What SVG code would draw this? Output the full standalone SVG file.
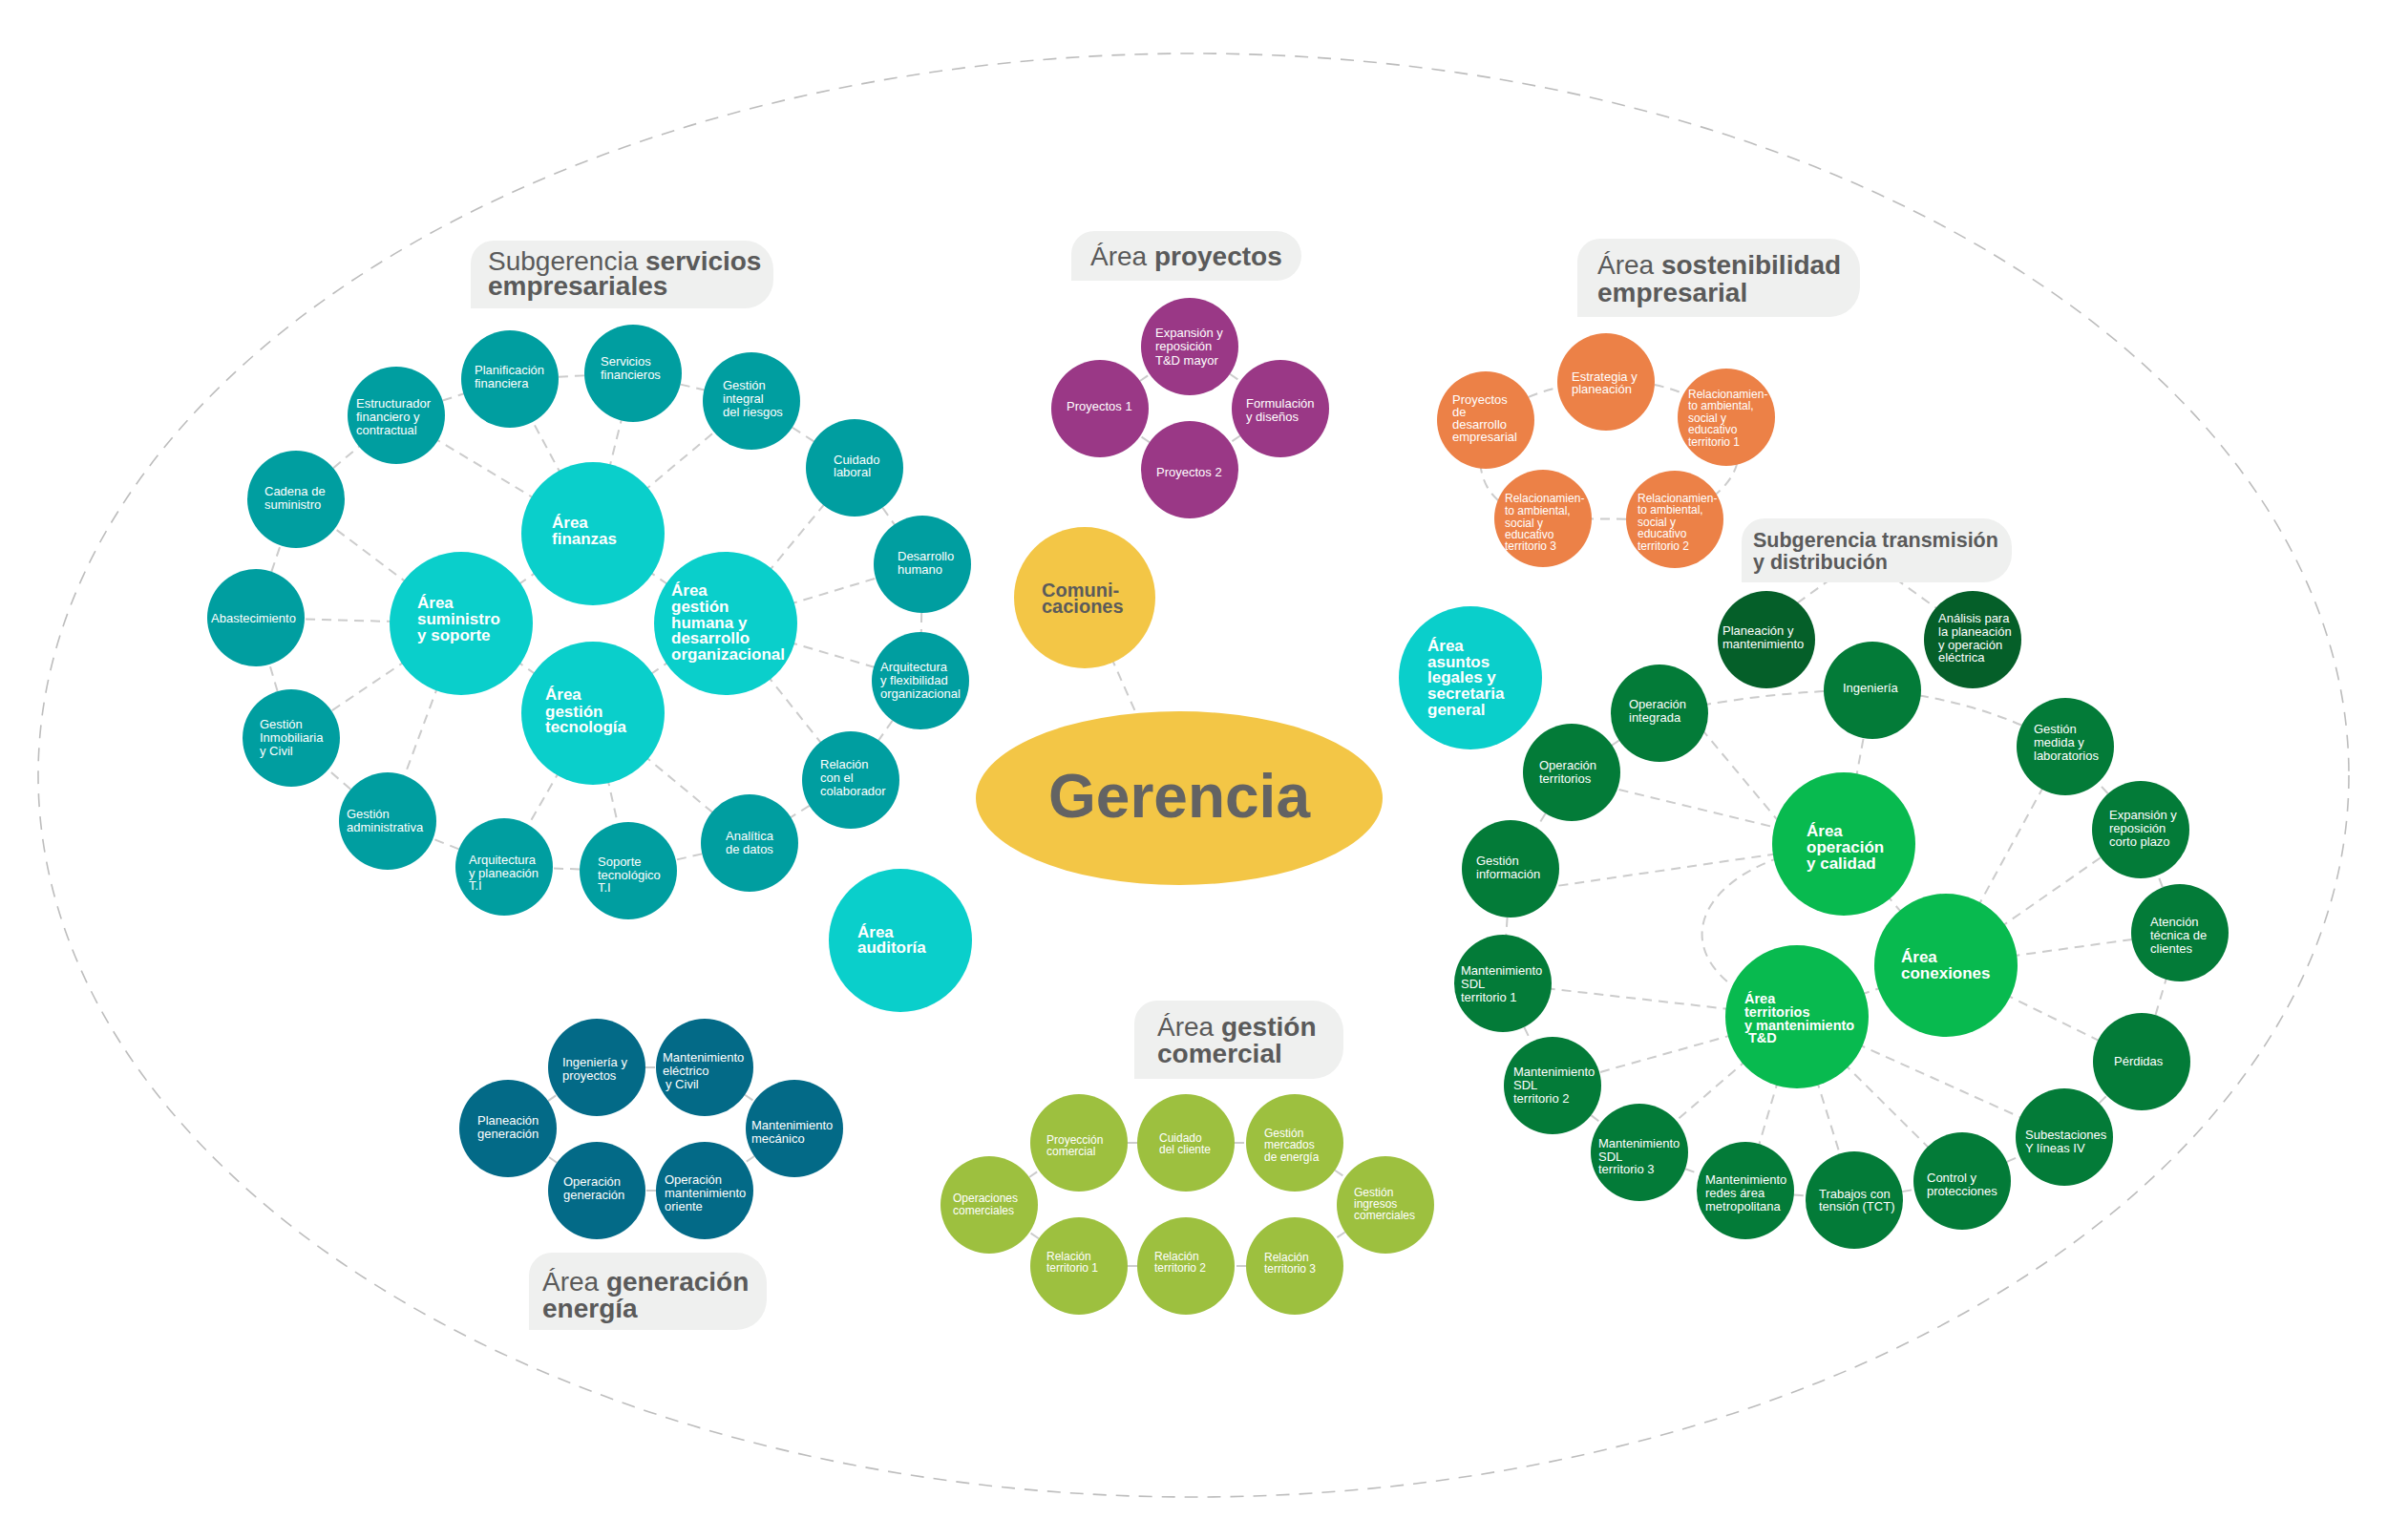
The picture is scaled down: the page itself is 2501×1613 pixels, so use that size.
<svg xmlns="http://www.w3.org/2000/svg" width="2501" height="1613" viewBox="0 0 2501 1613">
<style>
.bg{fill:#ffffff}
.outer{fill:none;stroke:#bdbdbd;stroke-width:1.6;stroke-dasharray:14 10}
.conn line,.conn path{stroke:#cccccc;stroke-width:2;stroke-dasharray:10 7;fill:none}
.teal{fill:#009ea0}
.turq{fill:#0acfcb}
.purple{fill:#9a3886}
.orange{fill:#ec8147}
.yellow{fill:#f3c646}
.dgreen{fill:#037b38}
.ddgreen{fill:#055f29}
.bgreen{fill:#08ba4f}
.gblue{fill:#036a87}
.lime{fill:#9dc03f}
.box{fill:#eff0ef}
.t{font-family:"Liberation Sans",Arial,sans-serif;font-size:13px;fill:#ffffff}
.ts{font-family:"Liberation Sans",Arial,sans-serif;font-size:12px;fill:#ffffff}
.tb{font-family:"Liberation Sans",Arial,sans-serif;font-size:17px;font-weight:bold;fill:#ffffff}
.tt{font-family:"Liberation Sans",Arial,sans-serif;font-size:28px;fill:#5a5a5a}
.b{font-weight:bold}
</style>
<rect class="bg" x="0" y="0" width="2501" height="1613"/>
<ellipse class="outer" cx="1250" cy="812" rx="1210" ry="756"/>

<g id="connectors" class="conn">
<!-- servicios empresariales ring -->
<line x1="415" y1="435" x2="534" y2="397"/>
<line x1="534" y1="397" x2="663" y2="391"/>
<line x1="663" y1="391" x2="787" y2="420"/>
<line x1="787" y1="420" x2="895" y2="490"/>
<line x1="895" y1="490" x2="966" y2="591"/>
<line x1="966" y1="591" x2="964" y2="713"/>
<line x1="964" y1="713" x2="891" y2="817"/>
<line x1="891" y1="817" x2="785" y2="883"/>
<line x1="785" y1="883" x2="658" y2="912"/>
<line x1="658" y1="912" x2="528" y2="908"/>
<line x1="528" y1="908" x2="406" y2="860"/>
<line x1="406" y1="860" x2="305" y2="773"/>
<line x1="305" y1="773" x2="268" y2="647"/>
<line x1="268" y1="647" x2="310" y2="523"/>
<line x1="310" y1="523" x2="415" y2="435"/>
<!-- finanzas -->
<line x1="621" y1="559" x2="534" y2="397"/>
<line x1="621" y1="559" x2="663" y2="391"/>
<line x1="621" y1="559" x2="787" y2="420"/>
<line x1="621" y1="559" x2="415" y2="435"/>
<line x1="621" y1="559" x2="483" y2="653"/>
<line x1="621" y1="559" x2="760" y2="653"/>
<!-- suministro -->
<line x1="483" y1="653" x2="310" y2="523"/>
<line x1="483" y1="653" x2="268" y2="647"/>
<line x1="483" y1="653" x2="305" y2="773"/>
<line x1="483" y1="653" x2="406" y2="860"/>
<line x1="483" y1="653" x2="621" y2="747"/>
<!-- gestion humana -->
<line x1="760" y1="653" x2="895" y2="490"/>
<line x1="760" y1="653" x2="966" y2="591"/>
<line x1="760" y1="653" x2="964" y2="713"/>
<line x1="760" y1="653" x2="891" y2="817"/>
<line x1="760" y1="653" x2="621" y2="747"/>
<!-- tecnologia -->
<line x1="621" y1="747" x2="528" y2="908"/>
<line x1="621" y1="747" x2="658" y2="912"/>
<line x1="621" y1="747" x2="785" y2="883"/>
<!-- comunicaciones -->
<line x1="1136" y1="626" x2="1200" y2="770"/>
<!-- proyectos -->
<line x1="1152" y1="428" x2="1246" y2="363"/>
<line x1="1246" y1="363" x2="1341" y2="428"/>
<line x1="1341" y1="428" x2="1246" y2="492"/>
<line x1="1246" y1="492" x2="1152" y2="428"/>
<!-- sostenibilidad -->
<path d="M1556,440 Q1615,400 1682,400"/>
<path d="M1682,400 Q1750,395 1808,437"/>
<path d="M1808,437 Q1850,500 1754,544"/>
<line x1="1754" y1="544" x2="1616" y2="543"/>
<path d="M1616,543 Q1530,530 1556,440"/>
<!-- transmision y distribucion -->
<line x1="1918" y1="606" x2="1868" y2="642"/>
<line x1="1985" y1="606" x2="2035" y2="642"/>
<line x1="1738" y1="747" x2="1646" y2="809"/>
<line x1="1646" y1="809" x2="1582" y2="910"/>
<line x1="1582" y1="910" x2="1574" y2="1030"/>
<line x1="1574" y1="1030" x2="1626" y2="1137"/>
<line x1="1626" y1="1137" x2="1717" y2="1207"/>
<line x1="1717" y1="1207" x2="1828" y2="1247"/>
<line x1="1828" y1="1247" x2="1942" y2="1257"/>
<line x1="1942" y1="1257" x2="2055" y2="1237"/>
<line x1="2055" y1="1237" x2="2162" y2="1191"/>
<line x1="2162" y1="1191" x2="2243" y2="1112"/>
<line x1="2243" y1="1112" x2="2283" y2="977"/>
<line x1="2283" y1="977" x2="2242" y2="869"/>
<line x1="2242" y1="869" x2="2163" y2="782"/>
<path d="M2163,782 Q2070,730 1961,723"/>
<path d="M1961,723 Q1860,722 1738,747"/>
<line x1="1931" y1="884" x2="1961" y2="723"/>
<line x1="1760" y1="737" x2="1890" y2="893"/>
<line x1="1646" y1="815" x2="1931" y2="884"/>
<line x1="1582" y1="935" x2="1931" y2="884"/>
<line x1="1931" y1="884" x2="2038" y2="1011"/>
<path d="M1931,884 C1770,900 1720,1015 1882,1065"/>
<line x1="2038" y1="1011" x2="2163" y2="782"/>
<line x1="2038" y1="1011" x2="2242" y2="869"/>
<line x1="2038" y1="1011" x2="2283" y2="977"/>
<line x1="2038" y1="1011" x2="2243" y2="1112"/>
<line x1="2038" y1="1011" x2="1882" y2="1065"/>
<line x1="1882" y1="1065" x2="1574" y2="1030"/>
<line x1="1882" y1="1065" x2="1626" y2="1137"/>
<line x1="1882" y1="1065" x2="1717" y2="1207"/>
<line x1="1882" y1="1065" x2="1828" y2="1247"/>
<line x1="1882" y1="1065" x2="1942" y2="1257"/>
<line x1="1882" y1="1065" x2="2055" y2="1237"/>
<line x1="1882" y1="1065" x2="2162" y2="1191"/>
<!-- generacion -->
<line x1="532" y1="1182" x2="625" y2="1118"/>
<line x1="625" y1="1118" x2="738" y2="1118"/>
<line x1="738" y1="1118" x2="832" y2="1182"/>
<line x1="832" y1="1182" x2="738" y2="1247"/>
<line x1="738" y1="1247" x2="625" y2="1247"/>
<line x1="625" y1="1247" x2="532" y2="1182"/>
<!-- comercial -->
<line x1="1036" y1="1262" x2="1130" y2="1197"/>
<line x1="1130" y1="1197" x2="1242" y2="1197"/>
<line x1="1242" y1="1197" x2="1356" y2="1197"/>
<line x1="1356" y1="1197" x2="1451" y2="1262"/>
<line x1="1451" y1="1262" x2="1356" y2="1326"/>
<line x1="1356" y1="1326" x2="1242" y2="1326"/>
<line x1="1242" y1="1326" x2="1130" y2="1326"/>
<line x1="1130" y1="1326" x2="1036" y2="1262"/>
</g>

<!-- title boxes -->
<g id="title-servicios">
<path class="box" d="M493,323 V276 A24,24 0 0 1 517,252 H780 A30,30 0 0 1 810,282 V293 A30,30 0 0 1 780,323 Z"/>
<text class="tt" x="511" y="283">Subgerencia <tspan class="b">servicios</tspan></text>
<text class="tt b" x="511" y="309">empresariales</text>
</g>
<g id="title-proyectos">
<path class="box" d="M1122,294 V266 A24,24 0 0 1 1146,242 H1337 A26,26 0 0 1 1363,268 A26,26 0 0 1 1337,294 Z"/>
<text class="tt" x="1142" y="278">Área <tspan class="b">proyectos</tspan></text>
</g>
<g id="title-sostenibilidad">
<path class="box" d="M1652,332 V274 A24,24 0 0 1 1676,250 H1916 A32,32 0 0 1 1948,282 V300 A32,32 0 0 1 1916,332 Z"/>
<text class="tt" x="1673" y="287">Área <tspan class="b">sostenibilidad</tspan></text>
<text class="tt b" x="1673" y="316">empresarial</text>
</g>
<g id="title-transmision">
<path class="box" d="M1824,610 V567 A24,24 0 0 1 1848,543 H2077 A30,30 0 0 1 2107,573 V580 A30,30 0 0 1 2077,610 Z"/>
<text class="tt b" x="1836" y="573" style="font-size:21.5px">Subgerencia transmisión</text>
<text class="tt b" x="1836" y="596" style="font-size:21.5px">y distribución</text>
</g>
<g id="title-comercial">
<path class="box" d="M1188,1130 V1072 A24,24 0 0 1 1212,1048 H1375 A32,32 0 0 1 1407,1080 V1098 A32,32 0 0 1 1375,1130 Z"/>
<text class="tt" x="1212" y="1085">Área <tspan class="b">gestión</tspan></text>
<text class="tt b" x="1212" y="1113">comercial</text>
</g>
<g id="title-generacion">
<path class="box" d="M554,1393 V1336 A24,24 0 0 1 578,1312 H771 A32,32 0 0 1 803,1344 V1361 A32,32 0 0 1 771,1393 Z"/>
<text class="tt" x="568" y="1352">Área <tspan class="b">generación</tspan></text>
<text class="tt b" x="568" y="1380">energía</text>
</g>

<!-- Gerencia & comunicaciones -->
<g id="gerencia">
<ellipse class="yellow" cx="1235" cy="836" rx="213" ry="91"/>
<text x="1235" y="856" text-anchor="middle" style="font-family:'Liberation Sans',Arial,sans-serif;font-size:64px;font-weight:bold;fill:#636363">Gerencia</text>
</g>
<g id="comunicaciones">
<circle class="yellow" cx="1136" cy="626" r="74"/>
<text style="font-family:'Liberation Sans',Arial,sans-serif;font-size:20px;font-weight:bold;fill:#5b5b5b"><tspan x="1091" y="625">Comuni-</tspan><tspan x="1091" y="642">caciones</tspan></text>
</g>

<!-- servicios empresariales nodes -->
<g id="planificacion"><circle class="teal" cx="534" cy="397" r="51"/><text class="t"><tspan x="497" y="392">Planificación</tspan><tspan x="497" y="406">financiera</tspan></text></g>
<g id="servicios-financieros"><circle class="teal" cx="663" cy="391" r="51"/><text class="t"><tspan x="629" y="383">Servicios</tspan><tspan x="629" y="397">financieros</tspan></text></g>
<g id="gestion-integral"><circle class="teal" cx="787" cy="420" r="51"/><text class="t"><tspan x="757" y="408">Gestión</tspan><tspan x="757" y="422">integral</tspan><tspan x="757" y="436">del riesgos</tspan></text></g>
<g id="estructurador"><circle class="teal" cx="415" cy="435" r="51"/><text class="t"><tspan x="373" y="427">Estructurador</tspan><tspan x="373" y="441">financiero y</tspan><tspan x="373" y="455">contractual</tspan></text></g>
<g id="cadena"><circle class="teal" cx="310" cy="523" r="51"/><text class="t"><tspan x="277" y="519">Cadena de</tspan><tspan x="277" y="533">suministro</tspan></text></g>
<g id="cuidado-laboral"><circle class="teal" cx="895" cy="490" r="51"/><text class="t"><tspan x="873" y="486">Cuidado</tspan><tspan x="873" y="499">laboral</tspan></text></g>
<g id="desarrollo-humano"><circle class="teal" cx="966" cy="591" r="51"/><text class="t"><tspan x="940" y="587">Desarrollo</tspan><tspan x="940" y="601">humano</tspan></text></g>
<g id="abastecimiento"><circle class="teal" cx="268" cy="647" r="51"/><text class="t"><tspan x="221" y="652">Abastecimiento</tspan></text></g>
<g id="arquitectura-flex"><circle class="teal" cx="964" cy="713" r="51"/><text class="t"><tspan x="922" y="703">Arquitectura</tspan><tspan x="922" y="717">y flexibilidad</tspan><tspan x="922" y="731">organizacional</tspan></text></g>
<g id="gestion-inmobiliaria"><circle class="teal" cx="305" cy="773" r="51"/><text class="t"><tspan x="272" y="763">Gestión</tspan><tspan x="272" y="777">Inmobiliaria</tspan><tspan x="272" y="791">y Civil</tspan></text></g>
<g id="gestion-administrativa"><circle class="teal" cx="406" cy="860" r="51"/><text class="t"><tspan x="363" y="857">Gestión</tspan><tspan x="363" y="871">administrativa</tspan></text></g>
<g id="arquitectura-ti"><circle class="teal" cx="528" cy="908" r="51"/><text class="t"><tspan x="491" y="905">Arquitectura</tspan><tspan x="491" y="919">y planeación</tspan><tspan x="491" y="932">T.I</tspan></text></g>
<g id="soporte-ti"><circle class="teal" cx="658" cy="912" r="51"/><text class="t"><tspan x="626" y="907">Soporte</tspan><tspan x="626" y="921">tecnológico</tspan><tspan x="626" y="934">T.I</tspan></text></g>
<g id="analitica"><circle class="teal" cx="785" cy="883" r="51"/><text class="t"><tspan x="760" y="880">Analítica</tspan><tspan x="760" y="894">de datos</tspan></text></g>
<g id="relacion-colaborador"><circle class="teal" cx="891" cy="817" r="51"/><text class="t"><tspan x="859" y="805">Relación</tspan><tspan x="859" y="819">con el</tspan><tspan x="859" y="833">colaborador</tspan></text></g>

<g id="area-finanzas"><circle class="turq" cx="621" cy="559" r="75"/><text class="tb"><tspan x="578" y="553">Área</tspan><tspan x="578" y="570">finanzas</tspan></text></g>
<g id="area-suministro"><circle class="turq" cx="483" cy="653" r="75"/><text class="tb"><tspan x="437" y="637">Área</tspan><tspan x="437" y="654">suministro</tspan><tspan x="437" y="671">y soporte</tspan></text></g>
<g id="area-gestion-humana"><circle class="turq" cx="760" cy="653" r="75"/><text class="tb"><tspan x="703" y="624">Área</tspan><tspan x="703" y="641">gestión</tspan><tspan x="703" y="658">humana y</tspan><tspan x="703" y="674">desarrollo</tspan><tspan x="703" y="691">organizacional</tspan></text></g>
<g id="area-tecnologia"><circle class="turq" cx="621" cy="747" r="75"/><text class="tb"><tspan x="571" y="733">Área</tspan><tspan x="571" y="751">gestión</tspan><tspan x="571" y="767">tecnología</tspan></text></g>
<g id="area-auditoria"><circle class="turq" cx="943" cy="985" r="75"/><text class="tb"><tspan x="898" y="982">Área</tspan><tspan x="898" y="998">auditoría</tspan></text></g>
<g id="area-asuntos-legales"><circle class="turq" cx="1540" cy="710" r="75"/><text class="tb"><tspan x="1495" y="682">Área</tspan><tspan x="1495" y="699">asuntos</tspan><tspan x="1495" y="715">legales y</tspan><tspan x="1495" y="732">secretaria</tspan><tspan x="1495" y="749">general</tspan></text></g>

<!-- proyectos -->
<g id="expansion-td"><circle class="purple" cx="1246" cy="363" r="51"/><text class="t"><tspan x="1210" y="353">Expansión y</tspan><tspan x="1210" y="367">reposición</tspan><tspan x="1210" y="382">T&amp;D mayor</tspan></text></g>
<g id="proyectos-1"><circle class="purple" cx="1152" cy="428" r="51"/><text class="t"><tspan x="1117" y="430">Proyectos 1</tspan></text></g>
<g id="formulacion"><circle class="purple" cx="1341" cy="428" r="51"/><text class="t"><tspan x="1305" y="427">Formulación</tspan><tspan x="1305" y="441">y diseños</tspan></text></g>
<g id="proyectos-2"><circle class="purple" cx="1246" cy="492" r="51"/><text class="t"><tspan x="1211" y="499">Proyectos 2</tspan></text></g>

<!-- sostenibilidad -->
<g id="estrategia"><circle class="orange" cx="1682" cy="400" r="51"/><text class="t"><tspan x="1646" y="399">Estrategia y</tspan><tspan x="1646" y="412">planeación</tspan></text></g>
<g id="proyectos-desarrollo"><circle class="orange" cx="1556" cy="440" r="51"/><text class="t"><tspan x="1521" y="423">Proyectos</tspan><tspan x="1521" y="436">de</tspan><tspan x="1521" y="449">desarrollo</tspan><tspan x="1521" y="462">empresarial</tspan></text></g>
<g id="relacionamiento-1"><circle class="orange" cx="1808" cy="437" r="51"/><text class="ts"><tspan x="1768" y="417">Relacionamien-</tspan><tspan x="1768" y="429">to ambiental,</tspan><tspan x="1768" y="442">social  y</tspan><tspan x="1768" y="454">educativo</tspan><tspan x="1768" y="467">territorio 1</tspan></text></g>
<g id="relacionamiento-3"><circle class="orange" cx="1616" cy="543" r="51"/><text class="ts"><tspan x="1576" y="526">Relacionamien-</tspan><tspan x="1576" y="539">to ambiental,</tspan><tspan x="1576" y="552">social  y</tspan><tspan x="1576" y="564">educativo</tspan><tspan x="1576" y="576">territorio 3</tspan></text></g>
<g id="relacionamiento-2"><circle class="orange" cx="1754" cy="544" r="51"/><text class="ts"><tspan x="1715" y="526">Relacionamien-</tspan><tspan x="1715" y="538">to ambiental,</tspan><tspan x="1715" y="551">social  y</tspan><tspan x="1715" y="563">educativo</tspan><tspan x="1715" y="576">territorio 2</tspan></text></g>

<!-- transmision y distribucion -->
<g id="planeacion-mantenimiento"><circle class="ddgreen" cx="1850" cy="670" r="51"/><text class="t"><tspan x="1804" y="665">Planeación y</tspan><tspan x="1804" y="679">mantenimiento</tspan></text></g>
<g id="analisis-planeacion"><circle class="ddgreen" cx="2066" cy="670" r="51"/><text class="t"><tspan x="2030" y="652">Análisis para</tspan><tspan x="2030" y="666">la planeación</tspan><tspan x="2030" y="680">y operación</tspan><tspan x="2030" y="693">eléctrica</tspan></text></g>
<g id="ingenieria"><circle class="dgreen" cx="1961" cy="723" r="51"/><text class="t"><tspan x="1930" y="725">Ingeniería</tspan></text></g>
<g id="operacion-integrada"><circle class="dgreen" cx="1738" cy="747" r="51"/><text class="t"><tspan x="1706" y="742">Operación</tspan><tspan x="1706" y="756">integrada</tspan></text></g>
<g id="operacion-territorios"><circle class="dgreen" cx="1646" cy="809" r="51"/><text class="t"><tspan x="1612" y="806">Operación</tspan><tspan x="1612" y="820">territorios</tspan></text></g>
<g id="gestion-medida"><circle class="dgreen" cx="2163" cy="782" r="51"/><text class="t"><tspan x="2130" y="768">Gestión</tspan><tspan x="2130" y="782">medida y</tspan><tspan x="2130" y="796">laboratorios</tspan></text></g>
<g id="gestion-informacion"><circle class="dgreen" cx="1582" cy="910" r="51"/><text class="t"><tspan x="1546" y="906">Gestión</tspan><tspan x="1546" y="920">información</tspan></text></g>
<g id="expansion-corto-plazo"><circle class="dgreen" cx="2242" cy="869" r="51"/><text class="t"><tspan x="2209" y="858">Expansión y</tspan><tspan x="2209" y="872">reposición</tspan><tspan x="2209" y="886">corto plazo</tspan></text></g>
<g id="atencion-tecnica"><circle class="dgreen" cx="2283" cy="977" r="51"/><text class="t"><tspan x="2252" y="970">Atención</tspan><tspan x="2252" y="984">técnica de</tspan><tspan x="2252" y="998">clientes</tspan></text></g>
<g id="perdidas"><circle class="dgreen" cx="2243" cy="1112" r="51"/><text class="t"><tspan x="2214" y="1116">Pérdidas</tspan></text></g>
<g id="subestaciones"><circle class="dgreen" cx="2162" cy="1191" r="51"/><text class="t"><tspan x="2121" y="1193">Subestaciones</tspan><tspan x="2121" y="1207">Y líneas IV</tspan></text></g>
<g id="control-protecciones"><circle class="dgreen" cx="2055" cy="1237" r="51"/><text class="t"><tspan x="2018" y="1238">Control y</tspan><tspan x="2018" y="1252">protecciones</tspan></text></g>
<g id="trabajos-tension"><circle class="dgreen" cx="1942" cy="1257" r="51"/><text class="t"><tspan x="1905" y="1255">Trabajos con</tspan><tspan x="1905" y="1268">tensión (TCT)</tspan></text></g>
<g id="mantenimiento-redes"><circle class="dgreen" cx="1828" cy="1247" r="51"/><text class="t"><tspan x="1786" y="1240">Mantenimiento</tspan><tspan x="1786" y="1254">redes área</tspan><tspan x="1786" y="1268">metropolitana</tspan></text></g>
<g id="sdl-territorio-3"><circle class="dgreen" cx="1717" cy="1207" r="51"/><text class="t"><tspan x="1674" y="1202">Mantenimiento</tspan><tspan x="1674" y="1216">SDL</tspan><tspan x="1674" y="1229">territorio 3</tspan></text></g>
<g id="sdl-territorio-2"><circle class="dgreen" cx="1626" cy="1137" r="51"/><text class="t"><tspan x="1585" y="1127">Mantenimiento</tspan><tspan x="1585" y="1141">SDL</tspan><tspan x="1585" y="1155">territorio 2</tspan></text></g>
<g id="sdl-territorio-1"><circle class="dgreen" cx="1574" cy="1030" r="51"/><text class="t"><tspan x="1530" y="1021">Mantenimiento</tspan><tspan x="1530" y="1035">SDL</tspan><tspan x="1530" y="1049">territorio 1</tspan></text></g>

<g id="area-operacion-calidad"><circle class="bgreen" cx="1931" cy="884" r="75"/><text class="tb"><tspan x="1892" y="876">Área</tspan><tspan x="1892" y="893">operación</tspan><tspan x="1892" y="910">y calidad</tspan></text></g>
<g id="area-conexiones"><circle class="bgreen" cx="2038" cy="1011" r="75"/><text class="tb"><tspan x="1991" y="1008">Área</tspan><tspan x="1991" y="1025">conexiones</tspan></text></g>
<g id="area-territorios"><circle class="bgreen" cx="1882" cy="1065" r="75"/><text class="tb" style="font-size:14.5px"><tspan x="1827" y="1051">Área</tspan><tspan x="1827" y="1065">territorios</tspan><tspan x="1827" y="1079">y mantenimiento</tspan><tspan x="1831" y="1092">T&amp;D</tspan></text></g>

<!-- generacion -->
<g id="ingenieria-proyectos"><circle class="gblue" cx="625" cy="1118" r="51"/><text class="t"><tspan x="589" y="1117">Ingeniería y</tspan><tspan x="589" y="1131">proyectos</tspan></text></g>
<g id="mantenimiento-electrico"><circle class="gblue" cx="738" cy="1118" r="51"/><text class="t"><tspan x="694" y="1112">Mantenimiento</tspan><tspan x="694" y="1126">eléctrico</tspan><tspan x="697" y="1140">y Civil</tspan></text></g>
<g id="planeacion-generacion"><circle class="gblue" cx="532" cy="1182" r="51"/><text class="t"><tspan x="500" y="1178">Planeación</tspan><tspan x="500" y="1192">generación</tspan></text></g>
<g id="mantenimiento-mecanico"><circle class="gblue" cx="832" cy="1182" r="51"/><text class="t"><tspan x="787" y="1183">Mantenimiento</tspan><tspan x="787" y="1197">mecánico</tspan></text></g>
<g id="operacion-generacion"><circle class="gblue" cx="625" cy="1247" r="51"/><text class="t"><tspan x="590" y="1242">Operación</tspan><tspan x="590" y="1256">generación</tspan></text></g>
<g id="operacion-oriente"><circle class="gblue" cx="738" cy="1247" r="51"/><text class="t"><tspan x="696" y="1240">Operación</tspan><tspan x="696" y="1254">mantenimiento</tspan><tspan x="696" y="1268">oriente</tspan></text></g>

<!-- comercial -->
<g id="proyeccion-comercial"><circle class="lime" cx="1130" cy="1197" r="51"/><text class="ts"><tspan x="1096" y="1198">Proyección</tspan><tspan x="1096" y="1210">comercial</tspan></text></g>
<g id="cuidado-cliente"><circle class="lime" cx="1242" cy="1197" r="51"/><text class="ts"><tspan x="1214" y="1196">Cuidado</tspan><tspan x="1214" y="1208">del cliente</tspan></text></g>
<g id="mercados-energia"><circle class="lime" cx="1356" cy="1197" r="51"/><text class="ts"><tspan x="1324" y="1191">Gestión</tspan><tspan x="1324" y="1203">mercados</tspan><tspan x="1324" y="1216">de energía</tspan></text></g>
<g id="operaciones-comerciales"><circle class="lime" cx="1036" cy="1262" r="51"/><text class="ts"><tspan x="998" y="1259">Operaciones</tspan><tspan x="998" y="1272">comerciales</tspan></text></g>
<g id="ingresos-comerciales"><circle class="lime" cx="1451" cy="1262" r="51"/><text class="ts"><tspan x="1418" y="1253">Gestión</tspan><tspan x="1418" y="1265">ingresos</tspan><tspan x="1418" y="1277">comerciales</tspan></text></g>
<g id="relacion-territorio-1"><circle class="lime" cx="1130" cy="1326" r="51"/><text class="ts"><tspan x="1096" y="1320">Relación</tspan><tspan x="1096" y="1332">territorio 1</tspan></text></g>
<g id="relacion-territorio-2"><circle class="lime" cx="1242" cy="1326" r="51"/><text class="ts"><tspan x="1209" y="1320">Relación</tspan><tspan x="1209" y="1332">territorio 2</tspan></text></g>
<g id="relacion-territorio-3"><circle class="lime" cx="1356" cy="1326" r="51"/><text class="ts"><tspan x="1324" y="1321">Relación</tspan><tspan x="1324" y="1333">territorio 3</tspan></text></g>
</svg>
